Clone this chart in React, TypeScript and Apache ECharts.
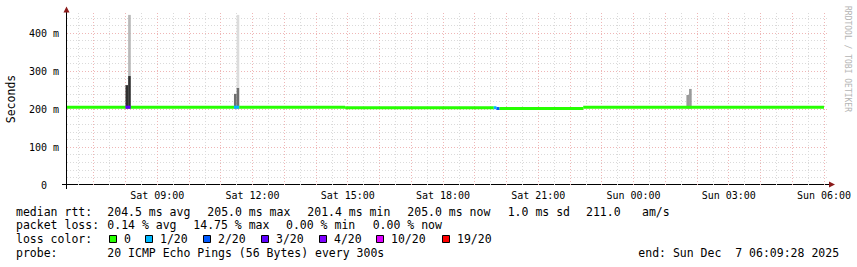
import React, { useEffect, useRef } from 'react';
import * as echarts from 'echarts';

// time in minutes since Sat 00:00
const X_MIN = 369.47; // Sat 06:09:28
const X_MAX = 1809.47; // Sun 06:09:28
const Y_MAX = 453;
const timeLabelValues = [540, 720, 900, 1080, 1260, 1440, 1620, 1800];
const yLabelValues = [0, 100, 200, 300, 400];

const lossColors = ['#26ff00', '#00b8ff', '#0059ff', '#5e00ff', '#7e00ff', '#dd00ff', '#ff0000'];
const lossLabels = ['0', '1/20', '2/20', '3/20', '4/20', '10/20', '19/20'];

// median rtt: [start, end, median ms, loss colour index]
const medianSegments = [
  [369.47, 480, 205.0, 0],
  [480, 490, 205.0, 3],
  [490, 685, 205.0, 0],
  [685, 695, 205.0, 1],
  [695, 895, 205.0, 0],
  [895, 1176, 203.6, 0],
  [1176, 1181, 203.6, 1],
  [1181, 1187, 201.4, 2],
  [1187, 1345, 201.4, 0],
  [1345, 1800, 205.0, 0],
];

// smoke: [start, end, low ms, high ms, density index]
const smokeShades = ['#303030', '#b8b8b8', '#707070', '#dcdcdc', '#9a9a9a'];
const smokeSegments = [
  [480, 485, 201, 263, 0],
  [485, 490, 201, 287, 0],
  [485, 490, 287, 448, 1],
  [685, 690, 201, 240, 2],
  [690, 695, 201, 256, 2],
  [690, 695, 256, 448, 3],
  [1540, 1545, 201, 237, 4],
  [1545, 1550, 201, 253, 4],
];

const statsRtt = ['204.5 ms avg', '205.0 ms max', '201.4 ms min', '205.0 ms now', '1.0 ms sd', '211.0', 'am/s'];
const statsLoss = ['0.14 % avg', '14.75 % max', '0.00 % min', '0.00 % now'];
const probeText = '20 ICMP Echo Pings (56 Bytes) every 300s';
const endText = 'end: Sun Dec  7 06:09:28 2025';

const MONO = '"DejaVu Sans Mono", monospace';

function fmtTime(v: number) {
  const day = v < 1440 ? 'Sat' : 'Sun';
  const h = Math.floor((v % 1440) / 60);
  return `${day} ${String(h).padStart(2, '0')}:00`;
}

function txt(text: string, x: number, y: number, size = 11.5, extra: any = {}) {
  return {
    type: 'text',
    x,
    y,
    silent: true,
    style: {
      text,
      fill: '#000',
      font: `${size}px ${MONO}`,
      align: 'left',
      textAlign: 'left',
      verticalAlign: 'middle',
      textVerticalAlign: 'middle',
      ...extra,
    },
  };
}

export default function App() {
  const ref = useRef<HTMLDivElement>(null);
  useEffect(() => {
    document.body.style.margin = '0';
    const chart = echarts.init(ref.current!, undefined, { renderer: 'svg' });

    const gridLines: any[] = [];
    const gray = { color: '#dadada', type: [1, 2], width: 1 };
    const red = { color: '#efb6b6', type: [1, 2], width: 1 };
    for (let v = 390; v <= 1800; v += 30) if (v % 60 !== 0) gridLines.push({ xAxis: v, lineStyle: gray });
    for (let v = 20; v <= 440; v += 20) if (v % 100 !== 0) gridLines.push({ yAxis: v, lineStyle: gray });
    for (let v = 420; v <= 1800; v += 60) gridLines.push({ xAxis: v, lineStyle: red });
    for (let v = 100; v <= 400; v += 100) gridLines.push({ yAxis: v, lineStyle: red });

    const rttX = [107.3, 207.3, 307.3, 407.3, 507.7, 586, 642];
    const lossX = [107.3, 193.3, 286, 372.7];
    const boxX = [109.5, 145.5, 203.5, 261.5, 319.5, 376.5, 442.5];
    const row = [211.5, 225.3, 239.1, 252.9];

    const graphics: any[] = [
      // axes
      { type: 'line', silent: true, shape: { x1: 62, y1: 184.5, x2: 829, y2: 184.5 }, style: { stroke: '#000', lineWidth: 1 } },
      { type: 'line', silent: true, shape: { x1: 66.5, y1: 189, x2: 66.5, y2: 12 }, style: { stroke: '#000', lineWidth: 1 } },
      { type: 'polygon', silent: true, shape: { points: [[829, 181.5], [835, 184.5], [829, 187.5]] }, style: { fill: '#8b1a1a' } },
      { type: 'polygon', silent: true, shape: { points: [[63.5, 12.5], [66.5, 6.5], [69.5, 12.5]] }, style: { fill: '#8b1a1a' } },
      txt('Seconds', 10.8, 99, 11.5, { align: 'center', textAlign: 'center' }),
      txt('RRDTOOL / TOBI OETIKER', 847.5, 59, 8, { align: 'center', textAlign: 'center', fill: '#b4b4b4' }),
      txt('median rtt:', 16, row[0]),
      txt('packet loss:', 16, row[1]),
      txt('loss color:', 16, row[2]),
      txt('probe:', 16, row[3]),
      txt(probeText, 107.3, row[3]),
      txt(endText, 638.3, row[3]),
    ];
    graphics[4].rotation = Math.PI / 2;
    graphics[5].rotation = -Math.PI / 2;
    statsRtt.forEach((s, i) => graphics.push(txt(s, rttX[i], row[0])));
    statsLoss.forEach((s, i) => graphics.push(txt(s, lossX[i], row[1])));
    lossLabels.forEach((s, i) => {
      graphics.push({
        type: 'rect', silent: true,
        shape: { x: boxX[i], y: 235.5, width: 7, height: 7 },
        style: { fill: lossColors[i], stroke: '#000', lineWidth: 1 },
      });
      graphics.push(txt(s, boxX[i] + 14.5, row[2]));
    });

    chart.setOption({
      animation: false,
      backgroundColor: '#ffffff',
      grid: { left: 67, right: 28, top: 13, bottom: 82, containLabel: false },
      xAxis: {
        type: 'value',
        min: X_MIN,
        max: X_MAX,
        axisLine: { show: false },
        axisTick: { show: false },
        splitLine: { show: false },
        axisLabel: {
          customValues: timeLabelValues,
          formatter: (v: number) => fmtTime(v),
          fontFamily: MONO,
          fontSize: 10,
          color: '#000',
          margin: 5,
        },
      },
      yAxis: {
        type: 'value',
        min: 0,
        max: Y_MAX,
        interval: 100,
        axisLine: { show: false },
        axisTick: { show: false },
        splitLine: { show: false },
        axisLabel: {
          showMaxLabel: false,
          formatter: (v: number) => (yLabelValues.includes(v) ? (v === 0 ? '{z|0}' : `${v} m`) : ''),
          fontFamily: MONO,
          fontSize: 10,
          color: '#000',
          margin: 8,
          rich: { z: { fontFamily: MONO, fontSize: 10, color: '#000', padding: [0, 12, 0, 0] } },
        },
      },
      series: [
        {
          type: 'line',
          data: [],
          silent: true,
          z: 1,
          markLine: {
            silent: true,
            z: 1,
            symbol: ['none', 'none'],
            label: { show: false },
            emphasis: { disabled: true },
            data: gridLines,
          },
        },
        {
          type: 'custom',
          z: 2,
          silent: true,
          data: smokeSegments,
          encode: { x: [0, 1], y: [2, 3] },
          renderItem: (params: any, api: any) => {
            const p0 = api.coord([api.value(0), api.value(3)]);
            const p1 = api.coord([api.value(1), api.value(2)]);
            return {
              type: 'rect',
              shape: { x: p0[0], y: p0[1], width: p1[0] - p0[0], height: p1[1] - p0[1] },
              style: { fill: smokeShades[api.value(4)] },
            };
          },
        },
        {
          type: 'custom',
          z: 3,
          silent: true,
          data: medianSegments,
          encode: { x: [0, 1], y: 2 },
          renderItem: (params: any, api: any) => {
            const p0 = api.coord([api.value(0), api.value(2)]);
            const p1 = api.coord([api.value(1), api.value(2)]);
            return {
              type: 'rect',
              shape: { x: p0[0], y: p0[1] - 1.5, width: p1[0] - p0[0], height: 3 },
              style: { fill: lossColors[api.value(3)] },
            };
          },
        },
      ],
      graphic: graphics,
    });
    return () => chart.dispose();
  }, []);
  return <div ref={ref} style={{ width: 857, height: 267 }} />;
}
